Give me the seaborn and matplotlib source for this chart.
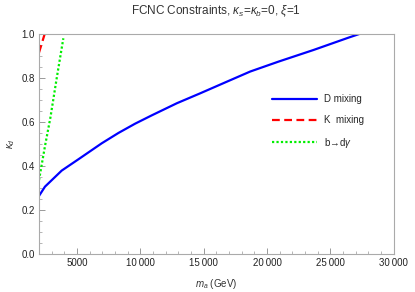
import matplotlib
matplotlib.use('Agg')
import matplotlib.pyplot as plt
from matplotlib.ticker import MultipleLocator
import seaborn as sns
import pandas as pd

# D mixing bound
d_mass = [2000, 2470, 3790, 5100, 6950, 8270, 9580, 10900, 12880, 14720,
          16830, 18670, 20900, 23670, 26430, 27300]
d_kappa = [0.264, 0.306, 0.379, 0.430, 0.503, 0.550, 0.592, 0.630, 0.685, 0.730,
           0.783, 0.829, 0.874, 0.927, 0.983, 1.0]

# K mixing bound
k_mass = [2000, 2450]
k_kappa = [0.915, 1.0]

# b -> d gamma bound
b_mass = [2000, 2470, 2900, 3400, 3920]
b_kappa = [0.336, 0.49, 0.62, 0.80, 0.98]

x_ticks = [5000, 10000, 15000, 20000, 25000, 30000]
x_labels = ['5000', '10\u2009000', '15\u2009000', '20\u2009000', '25\u2009000', '30\u2009000']
y_ticks = [0.0, 0.2, 0.4, 0.6, 0.8, 1.0]
y_labels = ['0.0', '0.2', '0.4', '0.6', '0.8', '1.0']

sns.set_style('white')
plt.rcParams['font.family'] = ['Liberation Sans', 'DejaVu Sans']
plt.rcParams['mathtext.fontset'] = 'custom'
plt.rcParams['mathtext.it'] = 'Liberation Sans:italic'
plt.rcParams['mathtext.rm'] = 'Liberation Sans'

fig = plt.figure(figsize=(4.15, 2.92), dpi=100)
ax = fig.add_axes([0.094, 0.130, 0.855, 0.754])

df_d = pd.DataFrame({'m': d_mass, 'k': d_kappa})
df_k = pd.DataFrame({'m': k_mass, 'k': k_kappa})
df_b = pd.DataFrame({'m': b_mass, 'k': b_kappa})

sns.lineplot(data=df_d, x='m', y='k', ax=ax, color='#0000ff', lw=1.6,
             label='D mixing')
sns.lineplot(data=df_k, x='m', y='k', ax=ax, color='#ff0000', lw=1.6,
             linestyle=(0, (3.5, 2)), label='K  mixing')
sns.lineplot(data=df_b, x='m', y='k', ax=ax, color='#00ee00', lw=1.6,
             linestyle=(0, (1, 1)), label='b\u2192d$\\gamma$')

ax.set_xlim(2000, 30000)
ax.set_ylim(0, 1.0)
ax.set_xticks(x_ticks)
ax.set_xticklabels(x_labels)
ax.set_yticks(y_ticks)
ax.set_yticklabels(y_labels)
ax.xaxis.set_minor_locator(MultipleLocator(1000))
ax.yaxis.set_minor_locator(MultipleLocator(0.05))

ax.tick_params(which='both', direction='in', color='#999999', labelsize=7,
               labelcolor='#222222', bottom=True, left=True, top=False, right=False)
ax.tick_params(which='major', length=4, width=0.7, pad=3)
ax.tick_params(which='minor', length=2, width=0.5)
for s in ax.spines.values():
    s.set_color('#aaaaaa')
    s.set_linewidth(0.8)

ax.set_xlabel(r'$m_a$ (GeV)', fontsize=7, color='#333333', labelpad=6)
ax.set_ylabel(r'$\kappa_d$', fontsize=7, color='#333333', labelpad=3)
ax.set_title(r'FCNC Constraints, $\kappa_s$=$\kappa_b$=0, $\xi$=1',
             fontsize=8.5, color='#333333', pad=14)

leg = ax.legend(loc='upper left', bbox_to_anchor=(0.656, 0.725), frameon=False,
                fontsize=7, handlelength=4.7, labelspacing=1.1, handletextpad=0.7,
                borderpad=0, borderaxespad=0)

fig.savefig('out.png', dpi=100)
